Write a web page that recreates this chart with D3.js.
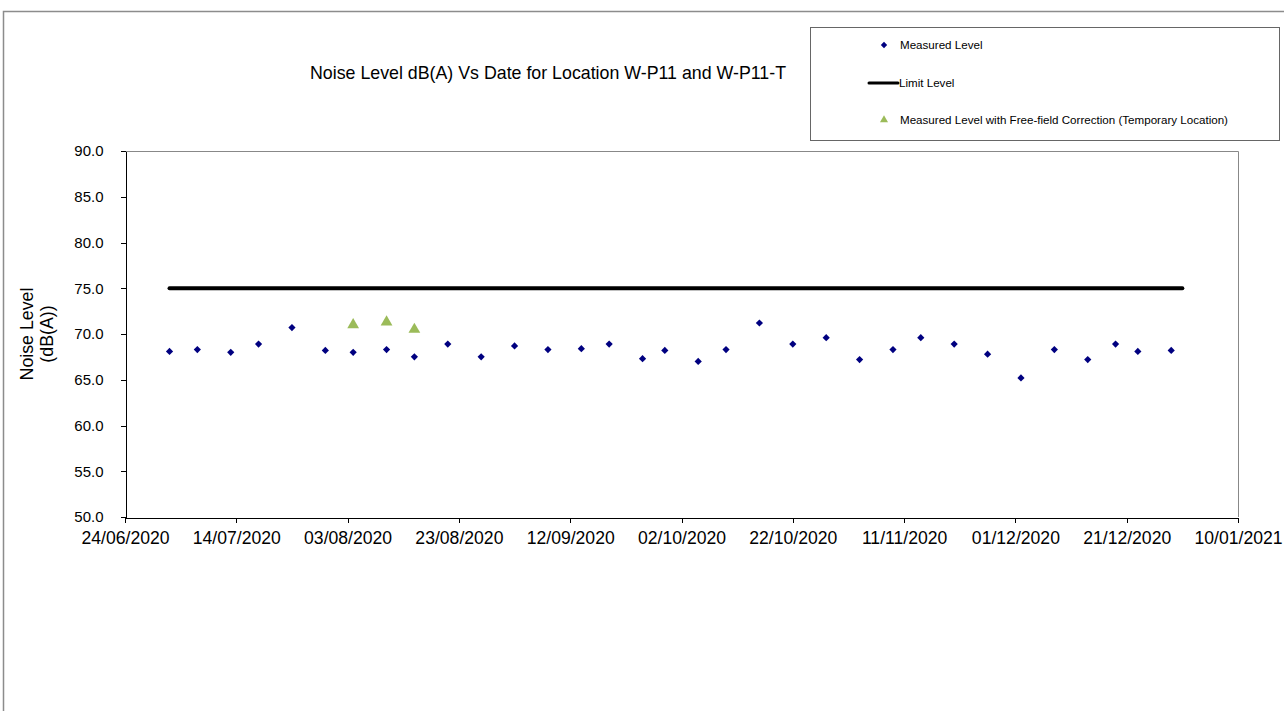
<!DOCTYPE html>
<html>
<head>
<meta charset="utf-8">
<script src="https://cdn.jsdelivr.net/npm/d3@7"></script>
<style>
  body { margin: 0; background: #fff; }
  svg { display: block; font-family: "Liberation Sans", Arial, sans-serif; }
  .axis path, .axis line { stroke: #000; shape-rendering: crispEdges; }
  .axis text { fill: #000; }
  .x.axis text { font-size: 17.6px; }
  .y.axis text { font-size: 15px; }
</style>
</head>
<body>
<div id="chart"></div>
<script>
// measured noise levels, dB(A)
const measuredDates = ["02/07/2020", "07/07/2020", "13/07/2020", "18/07/2020", "24/07/2020", "30/07/2020",
    "04/08/2020", "10/08/2020", "15/08/2020", "21/08/2020", "27/08/2020", "02/09/2020", "08/09/2020",
    "14/09/2020", "19/09/2020", "25/09/2020", "29/09/2020", "05/10/2020", "10/10/2020", "16/10/2020",
    "22/10/2020", "28/10/2020", "03/11/2020", "09/11/2020", "14/11/2020", "20/11/2020", "26/11/2020",
    "02/12/2020", "08/12/2020", "14/12/2020", "19/12/2020", "23/12/2020", "29/12/2020"];
const measuredValues = [68.1, 68.3, 68.0, 68.9, 70.7, 68.2,
    68.0, 68.3, 67.5, 68.9, 67.5, 68.7, 68.3,
    68.4, 68.9, 67.3, 68.2, 67.0, 68.3, 71.2,
    68.9, 69.6, 67.2, 68.3, 69.6, 68.9, 67.8,
    65.2, 68.3, 67.2, 68.9, 68.1, 68.2];

// free-field corrected (temporary location)
const correctedDates = ["04/08/2020", "10/08/2020", "15/08/2020"];
const correctedValues = [71.0, 71.3, 70.5];

const limitDates = ["02/07/2020", "31/12/2020"];
const limitValues = [75, 75];

const xTickLabels = ["24/06/2020", "14/07/2020", "03/08/2020", "23/08/2020", "12/09/2020", "02/10/2020",
    "22/10/2020", "11/11/2020", "01/12/2020", "21/12/2020", "10/01/2021"];
const yTickValues = [50, 55, 60, 65, 70, 75, 80, 85, 90];

const legendLabels = ["Measured Level", "Limit Level", "Measured Level with Free-field Correction (Temporary Location)"];

const parse = d3.timeParse("%d/%m/%Y");

const width = 1284, height = 711;
const plot = { left: 125, right: 1238, top: 151, bottom: 517 };

const svg = d3.select('#chart').append('svg')
    .attr('width', width)
    .attr('height', height);

// outer chart frame
svg.append('path')
    .attr('d', `M3.5,${height} V11.5 H${width}`)
    .attr('fill', 'none')
    .attr('stroke', '#8c8c8c')
    .attr('stroke-width', 1.5);

const x = d3.scaleTime()
    .domain([parse(xTickLabels[0]), parse(xTickLabels[xTickLabels.length - 1])])
    .range([plot.left, plot.right]);

const y = d3.scaleLinear()
    .domain([50, 90])
    .range([plot.bottom, plot.top]);

// plot frame: grey top and right
svg.append('path')
    .attr('d', `M${plot.left},${plot.top + 0.5} H${plot.right + 0.5} V${plot.bottom}`)
    .attr('fill', 'none')
    .attr('stroke', '#888')
    .attr('stroke-width', 1);

svg.append('g')
    .attr('class', 'x axis')
    .attr('transform', `translate(0,${plot.bottom + 0.5})`)
    .call(d3.axisBottom(x)
        .tickValues(xTickLabels.map(parse))
        .tickFormat(d3.timeFormat("%d/%m/%Y"))
        .tickSizeInner(5).tickSizeOuter(0).tickPadding(5))
    .selectAll('text').attr('dy', '0.95em');

svg.append('g')
    .attr('class', 'y axis')
    .attr('transform', `translate(${plot.left + 0.5},0)`)
    .call(d3.axisLeft(y)
        .tickValues(yTickValues)
        .tickFormat(d3.format('.1f'))
        .tickSizeInner(5).tickSizeOuter(0).tickPadding(17));

// title
svg.append('text')
    .attr('x', 548)
    .attr('y', 79)
    .attr('text-anchor', 'middle')
    .style('font-size', '17.8px')
    .text('Noise Level dB(A) Vs Date for Location W-P11 and W-P11-T');

// y axis title
const yTitle = svg.append('text')
    .attr('transform', `translate(33,${(plot.top + plot.bottom) / 2}) rotate(-90)`)
    .attr('text-anchor', 'middle')
    .style('font-size', '17.8px');
yTitle.append('tspan').attr('x', 0).attr('dy', '0em').text('Noise Level');
yTitle.append('tspan').attr('x', 0).attr('dy', '1.15em').text('(dB(A))');

// limit line
const limitData = limitDates.map((d, i) => ({ date: parse(d), value: limitValues[i] }));
svg.append('path')
    .datum(limitData)
    .attr('d', d3.line().x(d => x(d.date)).y(d => y(d.value)))
    .attr('stroke', '#000')
    .attr('stroke-width', 4)
    .attr('stroke-linecap', 'round')
    .attr('fill', 'none');

const diamond = d3.symbol().type(d3.symbolSquare).size(26);
const triangle = d3.symbol().type(d3.symbolTriangle).size(60);

svg.append('g')
    .selectAll('path')
    .data(measuredDates.map((d, i) => ({ date: parse(d), value: measuredValues[i] })))
    .enter().append('path')
    .attr('d', diamond)
    .attr('transform', d => `translate(${x(d.date)},${y(d.value)}) rotate(45)`)
    .attr('fill', '#000080');

svg.append('g')
    .selectAll('path')
    .data(correctedDates.map((d, i) => ({ date: parse(d), value: correctedValues[i] })))
    .enter().append('path')
    .attr('d', triangle)
    .attr('transform', d => `translate(${x(d.date)},${y(d.value)})`)
    .attr('fill', '#9bbb59');

// legend
const legend = svg.append('g').attr('transform', 'translate(810,27)');
legend.append('rect')
    .attr('x', 0.5).attr('y', 0.5)
    .attr('width', 469).attr('height', 113)
    .attr('fill', '#fff')
    .attr('stroke', '#666')
    .attr('stroke-width', 1);

const legendRows = [18, 56, 93];
legendLabels.forEach((label, i) => {
    const row = legend.append('g').attr('transform', `translate(0,${legendRows[i]})`);
    if (i === 0) {
        row.append('path').attr('d', diamond.size(20))
            .attr('transform', 'translate(74,0) rotate(45)')
            .attr('fill', '#000080');
    } else if (i === 1) {
        row.append('line').attr('x1', 59).attr('x2', 88)
            .attr('stroke', '#000').attr('stroke-width', 3).attr('stroke-linecap', 'round');
    } else {
        row.append('path').attr('d', triangle.size(28))
            .attr('transform', 'translate(74,0)')
            .attr('fill', '#9bbb59');
    }
    row.append('text')
        .attr('x', i === 1 ? 89 : 90)
        .attr('y', 0)
        .attr('dy', '0.35em')
        .style('font-size', '11.6px')
        .text(label);
});
</script>
</body>
</html>
